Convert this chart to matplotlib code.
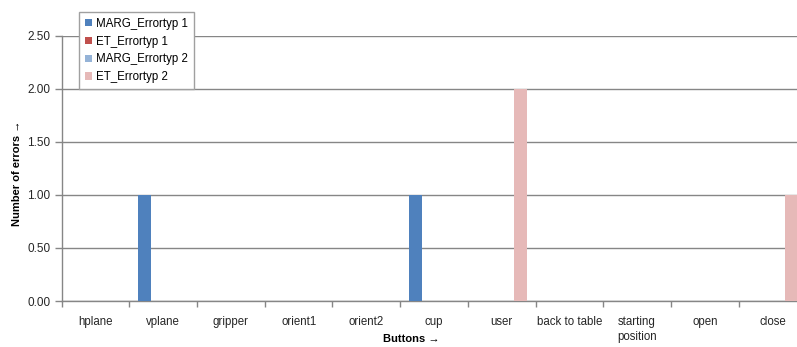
import matplotlib
matplotlib.use("Agg")
import matplotlib.pyplot as plt
import numpy as np

plt.rcParams['font.family'] = ['Liberation Sans', 'DejaVu Sans']

buttons = ["hplane", "vplane", "gripper", "orient1", "orient2", "cup", "user",
           "back to table", "starting\nposition", "open", "close"]
series_names = ["MARG_Errortyp 1", "ET_Errortyp 1", "MARG_Errortyp 2", "ET_Errortyp 2"]
marg_err1 = [0, 1, 0, 0, 0, 1, 0, 0, 0, 0, 0]
et_err1 = [0, 0, 0, 0, 0, 0, 0, 0, 0, 0, 0]
marg_err2 = [0, 0, 0, 0, 0, 0, 0, 0, 0, 0, 0]
et_err2 = [0, 0, 0, 0, 0, 0, 2, 0, 0, 0, 1]
y_ticks = [0.0, 0.5, 1.0, 1.5, 2.0, 2.5]

colors = ["#4F81BD", "#C0504D", "#95B3D7", "#E6B9B8"]
W, H = 797, 347
fig = plt.figure(figsize=(W / 100, H / 100), dpi=100)
# axes run slightly past the right edge of the figure
left, right, top, bottom = 61.7, 806.4, 35.7, 301.0
ax = fig.add_axes([left / W, 1 - bottom / H, (right - left) / W, (bottom - top) / H])

x = np.arange(len(buttons))
bw = 0.1836
start = -0.5 + 0.133
for i, (vals, c, name) in enumerate(zip([marg_err1, et_err1, marg_err2, et_err2], colors, series_names)):
    ax.bar(x + start + i * bw, vals, width=bw, align='edge', color=c, label=name, zorder=3)

ax.set_xlim(-0.5, len(buttons) - 0.5)
ax.set_ylim(0, 2.5)
ax.set_yticks(y_ticks)
ax.set_yticklabels([f"{v:.2f}" for v in y_ticks])
ax.yaxis.grid(True, color="#868686", linewidth=1.0, zorder=0)
ax.set_axisbelow(True)

ax.set_xticks(x)
ax.set_xticklabels(buttons, fontsize=8.3, color="#262626", va='top', linespacing=1.3)
ax.set_xticks(np.arange(len(buttons) + 1) - 0.5, minor=True)
ax.tick_params(axis='x', which='major', length=0, pad=11)
ax.tick_params(axis='x', which='minor', length=4, color="#868686", width=1)
ax.tick_params(axis='y', length=5, color="#868686", width=1, labelsize=8.5, labelcolor="#262626", pad=3)

for s in ['top', 'right']:
    ax.spines[s].set_visible(False)
for s in ['left', 'bottom']:
    ax.spines[s].set_color("#868686")
    ax.spines[s].set_linewidth(1.0)

ylab = ax.set_ylabel("Number of errors \u2192", fontsize=8, fontweight='bold')
ax.yaxis.set_label_coords(-(left - 17) / (right - left), 0.5 + (168.5 - 173) / (bottom - top))
ylab.set_va('center')
xlab = ax.set_xlabel("Buttons \u2192", fontsize=8, fontweight='bold')
ax.xaxis.set_label_coords((411 - left) / (right - left), -(339 - bottom) / (bottom - top))
xlab.set_va('center')

leg = fig.legend(loc='upper left', bbox_to_anchor=(79 / W, 1 - 12 / H), fontsize=8.3,
                 frameon=True, fancybox=False, edgecolor="#A0A0A0", framealpha=1,
                 handlelength=0.6, handleheight=0.6, handletextpad=0.4,
                 labelspacing=0.5, borderpad=0.5, borderaxespad=0)
leg.get_frame().set_linewidth(1.0)

fig.savefig("out.png", dpi=100)
